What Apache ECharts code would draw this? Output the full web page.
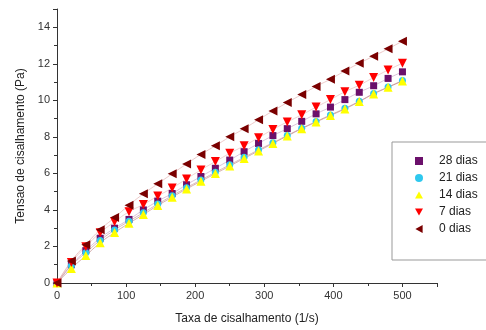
<!DOCTYPE html>
<html>
<head>
<meta charset="utf-8">
<script src="https://cdn.jsdelivr.net/npm/echarts@6/dist/echarts.min.js"></script>
<style>
  html, body { margin: 0; padding: 0; background: #fff; }
  #chart { width: 486px; height: 330px; }
</style>
</head>
<body>
<div id="chart"></div>
<script>
// shear rate (1/s)
const shearRate = [0, 20.8, 41.7, 62.5, 83.3, 104.2, 125, 145.8, 166.7, 187.5, 208.3, 229.2, 250,
  270.8, 291.7, 312.5, 333.3, 354.2, 375, 395.8, 416.7, 437.5, 458.3, 479.2, 500];

// shear stress (Pa) per storage day
const dias28 = [0, 1.0, 1.77, 2.45, 3.0, 3.48, 4.0, 4.48, 4.9, 5.38, 5.83, 6.28, 6.73,
  7.19, 7.64, 8.07, 8.45, 8.85, 9.26, 9.63, 10.04, 10.44, 10.8, 11.2, 11.56];
const dias21 = [0, 0.95, 1.66, 2.33, 2.9, 3.38, 3.85, 4.32, 4.78, 5.22, 5.64, 6.06, 6.47,
  6.88, 7.29, 7.68, 8.08, 8.47, 8.84, 9.2, 9.56, 9.95, 10.37, 10.73, 11.08];
const dias14 = [0, 0.8, 1.5, 2.2, 2.76, 3.27, 3.75, 4.24, 4.7, 5.15, 5.57, 5.99, 6.4,
  6.82, 7.23, 7.64, 8.05, 8.45, 8.81, 9.17, 9.53, 9.93, 10.35, 10.71, 11.06];
const dias7 = [0, 1.12, 1.99, 2.75, 3.35, 3.9, 4.3, 4.76, 5.2, 5.7, 6.19, 6.65, 7.1,
  7.51, 7.95, 8.41, 8.82, 9.21, 9.63, 10.04, 10.47, 10.83, 11.25, 11.66, 12.03];
const dias0 = [0, 1.2, 2.1, 2.92, 3.58, 4.26, 4.88, 5.43, 5.98, 6.52, 7.04, 7.51, 8.0,
  8.45, 8.94, 9.42, 9.88, 10.32, 10.76, 11.16, 11.61, 12.03, 12.42, 12.82, 13.24];

const xTicks = [0, 100, 200, 300, 400, 500];
const yTicks = [0, 2, 4, 6, 8, 10, 12, 14];

const groups = [
  { name: '28 dias', data: dias28, color: '#6b106b', symbol: 'rect', size: 7, rotate: 0, fit: '#c9a8c9', icon: 'rect' },
  { name: '21 dias', data: dias21, color: '#2fc8ee', symbol: 'circle', size: 7, rotate: 0, fit: '#c89a9a', icon: 'circle' },
  { name: '14 dias', data: dias14, color: '#ffff00', symbol: 'triangle', size: 9, rotate: 0, fit: '#c08888', icon: 'path://M5,0 L10,9 L0,9 Z' },
  { name: '7 dias', data: dias7, color: '#ff0000', symbol: 'triangle', size: 9, rotate: 180, fit: '#e8bcbc', icon: 'path://M0,0 L10,0 L5,9 Z' },
  { name: '0 dias', data: dias0, color: '#7a0000', symbol: 'triangle', size: 9, rotate: 90, fit: '#e4b0b0', icon: 'path://M9,0 L9,10 L0,5 Z' }
];

const pairs = arr => shearRate.map((x, i) => [x, arr[i]]);

const series = [];
groups.forEach(g => {
  series.push({
    name: g.name + ' ajuste',
    type: 'line',
    smooth: true,
    showSymbol: false,
    silent: true,
    z: 1,
    lineStyle: { width: 0.7, color: g.fit },
    data: pairs(g.data)
  });
});
groups.forEach(g => {
  series.push({
    name: g.name,
    type: 'scatter',
    symbol: g.symbol,
    symbolSize: g.size,
    symbolRotate: g.rotate,
    z: 3,
    itemStyle: { color: g.color, opacity: 1 },
    data: pairs(g.data)
  });
});

const chart = echarts.init(document.getElementById('chart'), null, { renderer: 'canvas' });
const font = 'Liberation Sans, Arial, sans-serif';

chart.setOption({
  animation: false,
  textStyle: { fontFamily: font },
  grid: { left: 57, right: 49, top: 9, bottom: 44 },
  legend: {
    data: groups.map(g => ({ name: g.name, icon: g.icon })),
    orient: 'vertical',
    left: 392,
    top: 142,
    padding: [12, 40, 24, 23],
    itemWidth: 8,
    itemHeight: 8,
    itemGap: 3,
    borderColor: '#999',
    borderWidth: 1,
    textStyle: { fontSize: 12, color: '#222', lineHeight: 14, padding: [0, 0, 0, 11] }
  },
  xAxis: {
    type: 'value',
    min: 0,
    max: 550,
    interval: 100,
    name: 'Taxa de cisalhamento (1/s)',
    nameLocation: 'middle',
    nameGap: 30,
    nameTextStyle: { fontSize: 12, color: '#222' },
    axisLine: { lineStyle: { color: '#333', width: 1 } },
    axisTick: { length: 4, lineStyle: { color: '#333' } },
    minorTick: { show: true, splitNumber: 2, length: 3, lineStyle: { color: '#333' } },
    axisLabel: {
      fontSize: 11, color: '#333', margin: 7,
      formatter: v => (xTicks.includes(v) ? String(v) : '')
    },
    splitLine: { show: false }
  },
  yAxis: {
    type: 'value',
    min: 0,
    max: 15,
    interval: 2,
    name: 'Tensao de cisalhamento (Pa)',
    nameLocation: 'middle',
    nameGap: 30,
    nameTextStyle: { fontSize: 12, color: '#222' },
    axisLine: { show: true, lineStyle: { color: '#333', width: 1 } },
    axisTick: { show: true, length: 4, lineStyle: { color: '#333' } },
    minorTick: { show: true, splitNumber: 2, length: 3, lineStyle: { color: '#333' } },
    axisLabel: {
      fontSize: 11, color: '#333', margin: 7,
      formatter: v => (yTicks.includes(v) ? String(v) : '')
    },
    splitLine: { show: false }
  },
  series
});
</script>
</body>
</html>
